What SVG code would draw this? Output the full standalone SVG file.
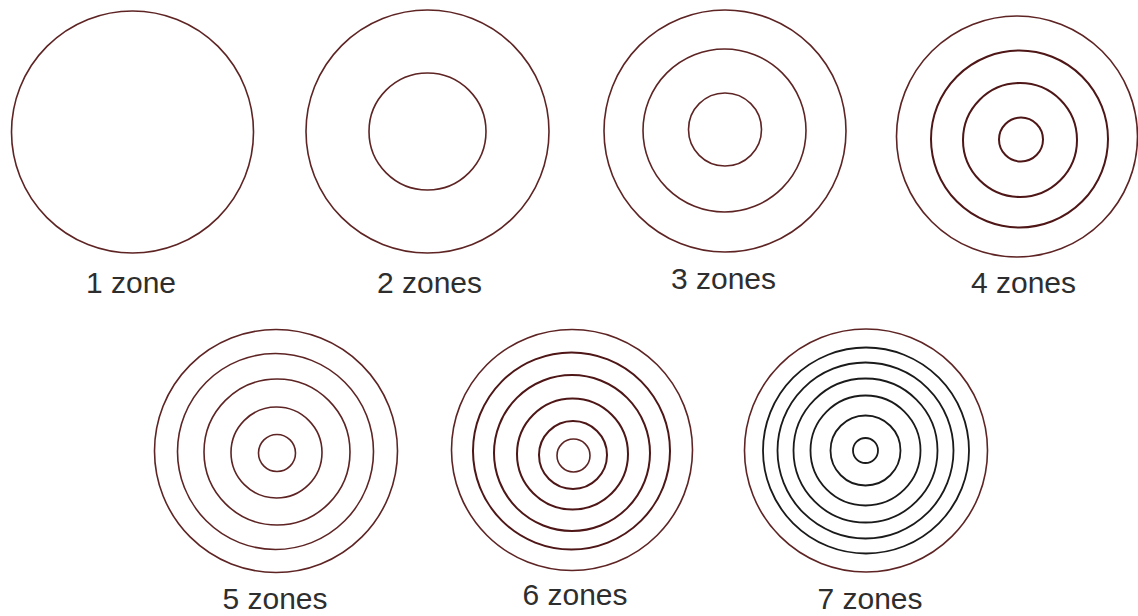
<svg xmlns="http://www.w3.org/2000/svg" width="1138" height="616" viewBox="0 0 1138 616">
<style>
  .ring { fill: none; stroke: #5e2424; stroke-width: 1.6; }
  .ring.bold { stroke: #4e1616; stroke-width: 2; }
  .ring.black { stroke: #1a1a1a; stroke-width: 1.8; }
  .label { font-family: "Liberation Sans", Arial, Helvetica, sans-serif; font-size: 30px; fill: #2e2e2e; text-anchor: middle; }
</style>
<rect width="1138" height="616" fill="#ffffff"/>

<g id="zone1">
  <circle class="ring" cx="132.5" cy="132" r="121"/>
  <text class="label" x="131" y="293">1 zone</text>
</g>

<g id="zone2">
  <circle class="ring" cx="427.5" cy="131.5" r="121.5"/>
  <circle class="ring" cx="427.5" cy="131.5" r="58.5"/>
  <text class="label" x="429.5" y="293">2 zones</text>
</g>

<g id="zone3">
  <circle class="ring" cx="725" cy="131" r="121"/>
  <circle class="ring" cx="724.5" cy="130.5" r="81.5"/>
  <circle class="ring" cx="725" cy="129.5" r="36.5"/>
  <text class="label" x="723.5" y="289">3 zones</text>
</g>

<g id="zone4">
  <circle class="ring" cx="1017" cy="136.5" r="120.5"/>
  <circle class="ring bold" cx="1019.5" cy="139" r="88.5"/>
  <circle class="ring bold" cx="1020" cy="140" r="57"/>
  <circle class="ring bold" cx="1021" cy="139.5" r="22"/>
  <text class="label" x="1023.5" y="293">4 zones</text>
</g>

<g id="zone5">
  <circle class="ring" cx="276" cy="451" r="121.5"/>
  <circle class="ring" cx="275.5" cy="451.5" r="98"/>
  <circle class="ring" cx="277" cy="452" r="73"/>
  <circle class="ring" cx="276.5" cy="452.5" r="45.5"/>
  <circle class="ring" cx="277" cy="453" r="18.5"/>
  <text class="label" x="275" y="609">5 zones</text>
</g>

<g id="zone6">
  <circle class="ring" cx="572" cy="450" r="120.5"/>
  <circle class="ring bold" cx="571.5" cy="451" r="98.5"/>
  <circle class="ring bold" cx="572" cy="453" r="78"/>
  <circle class="ring bold" cx="572.5" cy="454" r="55.5"/>
  <circle class="ring bold" cx="573" cy="455" r="34"/>
  <circle class="ring" cx="573.5" cy="455.5" r="16.5"/>
  <text class="label" x="575" y="605">6 zones</text>
</g>

<g id="zone7">
  <circle class="ring" cx="866" cy="450.5" r="121.5"/>
  <circle class="ring black" cx="866" cy="450.5" r="103"/>
  <circle class="ring black" cx="865.5" cy="450.5" r="88"/>
  <circle class="ring black" cx="865.5" cy="450.5" r="72"/>
  <circle class="ring black" cx="865.5" cy="450.5" r="55"/>
  <circle class="ring black" cx="865.5" cy="450.5" r="35"/>
  <circle class="ring black" cx="865.5" cy="450.5" r="12.5"/>
  <text class="label" x="870" y="609">7 zones</text>
</g>
</svg>
